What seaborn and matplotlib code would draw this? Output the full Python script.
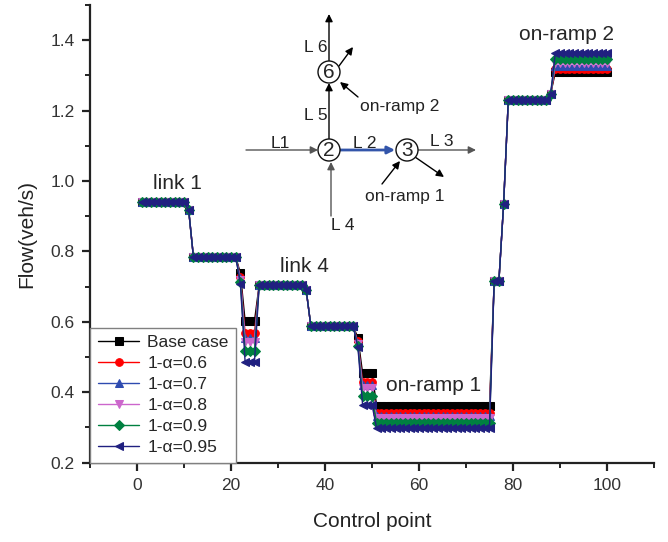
import numpy as np
import pandas as pd
import matplotlib
matplotlib.use("Agg")
import matplotlib.pyplot as plt
import matplotlib.transforms as mtransforms
from matplotlib.patches import Circle
from matplotlib.ticker import MultipleLocator
import seaborn as sns

# ---------------- data ----------------
series_names = ["Base case", "1-α=0.6", "1-α=0.7", "1-α=0.8", "1-α=0.9", "1-α=0.95"]
colors = ["#000000", "#FF0000", "#2E4BB0", "#CC66CC", "#008040", "#202080"]
markers = ["s", "o", "^", "v", "D", "<"]

control_points = list(range(1, 101))

# values shared by all series (read from plateaus)
link1 = [0.94] * 10          # points 1-10
p11 = [0.917]                # point 11
link2 = [0.785] * 10         # points 12-21
link4 = [0.705] * 10         # points 26-35
p36 = [0.69]                 # point 36
link5 = [0.587] * 10         # points 37-46
p76_77 = [0.716, 0.716]      # points 76-77
p78 = [0.934]                # point 78
link6 = [1.23] * 9           # points 79-87
p88 = [1.247]                # point 88

# values differing between series
p22 = [0.738, 0.728, 0.724, 0.720, 0.712, 0.708]
dip1 = [0.603, 0.568, 0.553, 0.544, 0.517, 0.487]     # points 23-25
p47 = [0.555, 0.545, 0.540, 0.536, 0.532, 0.528]
dip2 = [0.454, 0.428, 0.421, 0.413, 0.390, 0.364]     # points 48-50
ramp1 = [0.361, 0.340, 0.333, 0.326, 0.312, 0.298]    # points 51-75
ramp2 = [1.309, 1.318, 1.328, 1.335, 1.346, 1.363]    # points 89-100

frames = []
for i, name in enumerate(series_names):
    vals = (link1 + p11 + link2 + [p22[i]] + [dip1[i]] * 3 + link4 + p36 + link5
            + [p47[i]] + [dip2[i]] * 3 + [ramp1[i]] * 25 + p76_77 + p78 + link6
            + p88 + [ramp2[i]] * 12)
    frames.append(pd.DataFrame({"Control point": control_points, "Flow": vals, "series": name}))
df = pd.concat(frames, ignore_index=True)

# ---------------- figure ----------------
sns.set_style("ticks")
plt.rcParams["font.family"] = ["Liberation Sans", "DejaVu Sans"]

W, H = 668, 542
fig = plt.figure(figsize=(W / 100, H / 100), dpi=100)
ax = fig.add_axes([90 / W, (H - 462.7) / H, (654 - 90) / W, (462.7 - 5) / H])

for i, name in enumerate(series_names):
    sub = df[df["series"] == name]
    sns.lineplot(data=sub, x="Control point", y="Flow", ax=ax, color=colors[i],
                 marker=markers[i], markersize=5.5 if markers[i] != "D" else 4.8,
                 markeredgecolor=colors[i], markerfacecolor=colors[i],
                 linewidth=1.0, label=name, zorder=2 + i, estimator=None)

ax.set_xlim(-10, 110)
ax.set_ylim(0.2, 1.5)
ax.xaxis.set_major_locator(MultipleLocator(20))
ax.xaxis.set_minor_locator(MultipleLocator(10))
ax.yaxis.set_major_locator(MultipleLocator(0.2))
ax.yaxis.set_minor_locator(MultipleLocator(0.1))
ax.set_yticks([0.2, 0.4, 0.6, 0.8, 1.0, 1.2, 1.4])
ax.set_yticklabels(["0.2", "0.4", "0.6", "0.8", "1.0", "1.2", "1.4"])

for s in ["top", "right"]:
    ax.spines[s].set_visible(False)
for s in ["left", "bottom"]:
    ax.spines[s].set_linewidth(1.6)
    ax.spines[s].set_color("#222222")
ax.tick_params(which="major", direction="out", length=6, width=1.6, labelsize=12.5,
               colors="#222222", labelcolor="#333333", pad=5)
ax.tick_params(which="minor", direction="out", length=3.5, width=1.4, colors="#222222")

ax.set_xlabel("Control point", fontsize=15, color="#222222", labelpad=14)
ax.set_ylabel("Flow(veh/s)", fontsize=15, color="#222222", labelpad=10)

leg = ax.legend(loc="lower left", bbox_to_anchor=(0, 0), borderaxespad=0, fontsize=12.5,
                frameon=True, fancybox=False, edgecolor="#808080", framealpha=1,
                handlelength=2.4, handletextpad=0.45, labelspacing=0.33, borderpad=0.45)
leg.get_frame().set_linewidth(1.0)

# segment annotations
ax.text(8.5, 0.992, "link 1", fontsize=15, ha="center", va="center")
ax.text(35.7, 0.756, "link 4", fontsize=15, ha="center", va="center")
ax.text(63, 0.42, "on-ramp 1", fontsize=15, ha="center", va="center")
ax.text(91.3, 1.415, "on-ramp 2", fontsize=15, ha="center", va="center")

# ---------------- network sketch (pixel coordinates, top-left origin) ----------------
T = mtransforms.Affine2D().scale(0.01, -0.01).translate(0, H / 100) + fig.dpi_scale_trans


def arrow(p0, p1, color="#000000", lw=1.0):
    ax.annotate("", xy=p1, xytext=p0, xycoords=T, textcoords=T,
                arrowprops=dict(arrowstyle="-|>", color=color, lw=lw,
                                mutation_scale=11, shrinkA=0, shrinkB=0),
                annotation_clip=False, zorder=10)


def label(p, s, size=12.5):
    ax.text(p[0], p[1], s, transform=T, fontsize=size, ha="center", va="center",
            color="#222222", zorder=11)


gray = "#555555"
arrow((246, 150), (318, 150), color=gray)            # L1
arrow((340, 150), (395, 150), color="#3355AA", lw=2)  # L2
arrow((418, 150), (476, 150), color=gray)            # L3
arrow((415, 157), (444, 177))                        # exit near node 3
arrow((382, 184), (400, 161))                        # on-ramp 1
arrow((331, 216), (331, 162), color=gray)            # L4
arrow((329, 139), (329, 83))                         # L5
arrow((329, 61), (329, 14))                          # L6
arrow((339, 66), (353, 47))                          # exit near node 6
arrow((358, 97), (340, 82))                          # on-ramp 2

for (cx, cy, t) in [(329, 150, "2"), (329, 72, "6"), (407, 150, "3")]:
    ax.add_patch(Circle((cx, cy), 11, transform=T, facecolor="white",
                        edgecolor="#111111", lw=1.0, zorder=12, clip_on=False))
    ax.text(cx, cy + 0.5, t, transform=T, fontsize=15, ha="center", va="center", zorder=13)

label((280, 143), "L1")
label((365, 143), "L 2")
label((442, 142), "L 3")
label((343, 225), "L 4")
label((316, 115), "L 5")
label((316, 47), "L 6")
label((400, 107), "on-ramp 2")
label((405, 196), "on-ramp 1")

fig.savefig("out.png", dpi=100)
